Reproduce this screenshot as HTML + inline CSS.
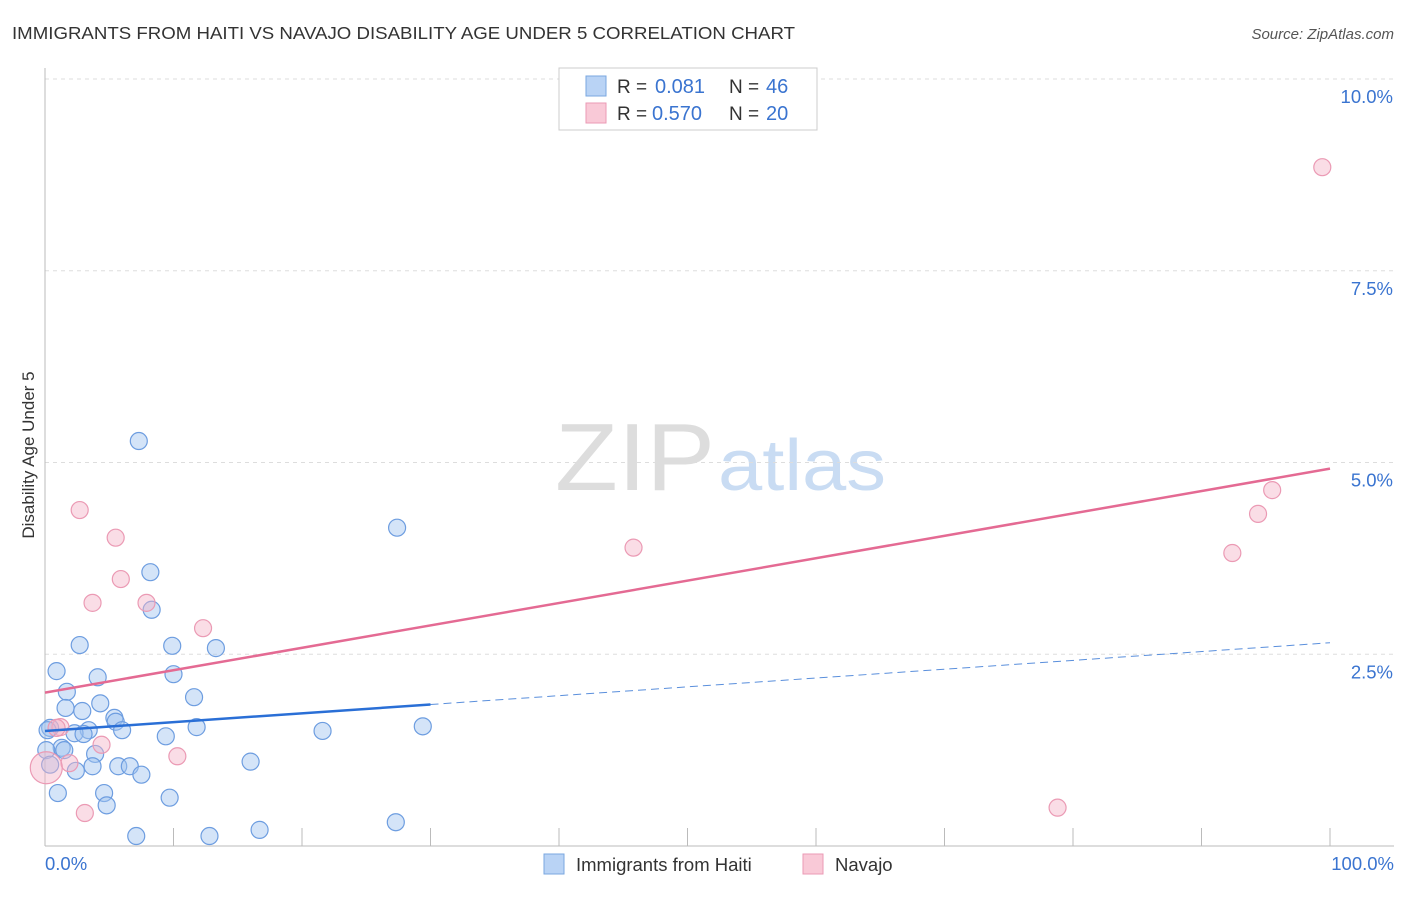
<!DOCTYPE html>
<html><head><meta charset="utf-8"><style>
body{margin:0;background:#fff;font-family:"Liberation Sans",sans-serif}
svg text{font-family:"Liberation Sans",sans-serif}
</style></head><body>
<svg id="c" width="1406" height="892">
<text x="12" y="39" font-size="17.5" fill="#333" textLength="783" lengthAdjust="spacingAndGlyphs">IMMIGRANTS FROM HAITI VS NAVAJO DISABILITY AGE UNDER 5 CORRELATION CHART</text>
<text x="1394" y="39" font-size="15" fill="#555" text-anchor="end" font-style="italic">Source: ZipAtlas.com</text>
<text x="555" y="490" font-size="96" fill="#ddd" font-family="Liberation Serif" textLength="160" lengthAdjust="spacingAndGlyphs">ZIP</text>
<text x="718" y="490" font-size="72" fill="#c9dcf3" textLength="168" lengthAdjust="spacingAndGlyphs">atlas</text>
<text transform="translate(34,455) rotate(-90)" font-size="17" fill="#333" text-anchor="middle">Disability Age Under 5</text>
<g id="grid"></g><g id="marks"></g>
<g>
<rect x="559" y="68" width="258" height="62" fill="#fff" stroke="#ccc"/>
<rect x="586" y="76" width="20" height="20" fill="#b9d3f5" stroke="#7aa7e0"/>
<rect x="586" y="103" width="20" height="20" fill="#f9c9d7" stroke="#eb9ab4"/>
<text x="617" y="93" font-size="19" fill="#333">R =</text><text x="655" y="93" font-size="20" fill="#3a74d0">0.081</text>
<text x="729" y="93" font-size="19" fill="#333">N =</text><text x="766" y="93" font-size="20" fill="#3a74d0">46</text>
<text x="617" y="120" font-size="19" fill="#333">R =</text><text x="652" y="120" font-size="20" fill="#3a74d0">0.570</text>
<text x="729" y="120" font-size="19" fill="#333">N =</text><text x="766" y="120" font-size="20" fill="#3a74d0">20</text>
</g>
<g>
<rect x="544" y="854" width="20" height="20" fill="#b9d3f5" stroke="#7aa7e0"/>
<text x="576" y="871" font-size="18.5" fill="#333">Immigrants from Haiti</text>
<rect x="803" y="854" width="20" height="20" fill="#f9c9d7" stroke="#eb9ab4"/>
<text x="835" y="871" font-size="18.5" fill="#333">Navajo</text>
</g>
</svg>
<script>
const yTicks=[2.5,5.0,7.5,10.0];
const xTickLabels=["0.0%","100.0%"];
const haitiX=[7.3,8.2,8.3,2.7,9.9,13.3,0.9,10.0,4.1,1.7,11.6,4.3,1.6,2.9,5.4,5.5,0.4,6.0,3.4,2.3,3.0,9.4,11.8,1.3,3.9,1.5,5.7,6.6,3.7,16.0,2.4,7.5,1.0,4.6,4.8,9.7,7.1,12.8,16.7,27.4,21.6,29.4,27.3,0.1,0.2,0.4];
const haitiY=[5.28,3.57,3.08,2.62,2.61,2.58,2.28,2.24,2.20,2.01,1.94,1.86,1.80,1.76,1.67,1.62,1.54,1.51,1.51,1.47,1.46,1.43,1.55,1.28,1.20,1.25,1.04,1.04,1.04,1.10,0.98,0.93,0.69,0.69,0.53,0.63,0.13,0.13,0.21,4.15,1.50,1.56,0.31,1.25,1.51,1.06];
const navajoX=[2.7,5.5,5.9,3.7,7.9,12.3,1.2,0.9,4.4,10.3,1.9,3.1,0.1,45.8,99.4,95.5,94.4,92.4,78.8];
const navajoY=[4.38,4.02,3.48,3.17,3.17,2.84,1.55,1.54,1.32,1.17,1.08,0.43,1.02,3.89,8.85,4.64,4.33,3.82,0.50];
const haitiTrend=[1.50,2.65]; const navajoTrend=[2.0,4.92];
const X=v=>45+v*12.85, Y=v=>846-v*76.7;
const NS="http://www.w3.org/2000/svg";
const grid=document.getElementById('grid'), marks=document.getElementById('marks');
function mk(p,tag,a){const e=document.createElementNS(NS,tag);for(const k in a)e.setAttribute(k,a[k]);p.appendChild(e);return e;}
yTicks.forEach(t=>{
 const l=mk(grid,'line',{x1:45,x2:1394,y1:Y(t),y2:Y(t),stroke:'#ddd','stroke-dasharray':'4,4'});
 
 
 const tx=mk(grid,'text',{x:1393,y:Y(t)+24,'font-size':18.5,fill:'#3a74d0','text-anchor':'end'});tx.textContent=t.toFixed(1)+'%';
 
 
});
mk(grid,'line',{x1:45,x2:45,y1:68,y2:846,stroke:'#bbb'});
mk(grid,'line',{x1:45,x2:1394,y1:846,y2:846,stroke:'#bbb'});
for(let i=0;i<=10;i++){mk(grid,'line',{x1:X(i*10),x2:X(i*10),y1:828,y2:846,stroke:'#bbb'});}
[[0,'start',45],[100,'end',1394]].forEach((d,i)=>{const t=mk(grid,'text',{x:d[2],y:870,'font-size':18.5,fill:'#3a74d0','text-anchor':d[1]});t.textContent=xTickLabels[i];
 
 });
haitiX.forEach((x,i)=>{const c=mk(marks,'circle',{cx:X(x),cy:Y(haitiY[i]),r:8.5,fill:'rgba(160,196,240,0.45)',stroke:'#6d9de0','stroke-width':1.2});
 
 });
navajoX.forEach((x,i)=>{const c=mk(marks,'circle',{cx:X(x),cy:Y(navajoY[i]),r:i==12?16:8.5,fill:'rgba(245,180,200,0.45)',stroke:'#eb9ab4','stroke-width':1.2});
 
 });
const hy=x=>haitiTrend[0]+(haitiTrend[1]-haitiTrend[0])*x/100;
let l=mk(marks,'line',{x1:X(0),y1:Y(hy(0)),x2:X(30),y2:Y(hy(30)),stroke:'#2a6fd6','stroke-width':2.5});


l=mk(marks,'line',{x1:X(30),y1:Y(hy(30)),x2:X(100),y2:Y(hy(100)),stroke:'#5a8fdc','stroke-width':1,'stroke-dasharray':'8,5'});


l=mk(marks,'line',{x1:X(0),y1:Y(navajoTrend[0]),x2:X(100),y2:Y(navajoTrend[1]),stroke:'#e46a93','stroke-width':2.5});


</script>
</body></html>
